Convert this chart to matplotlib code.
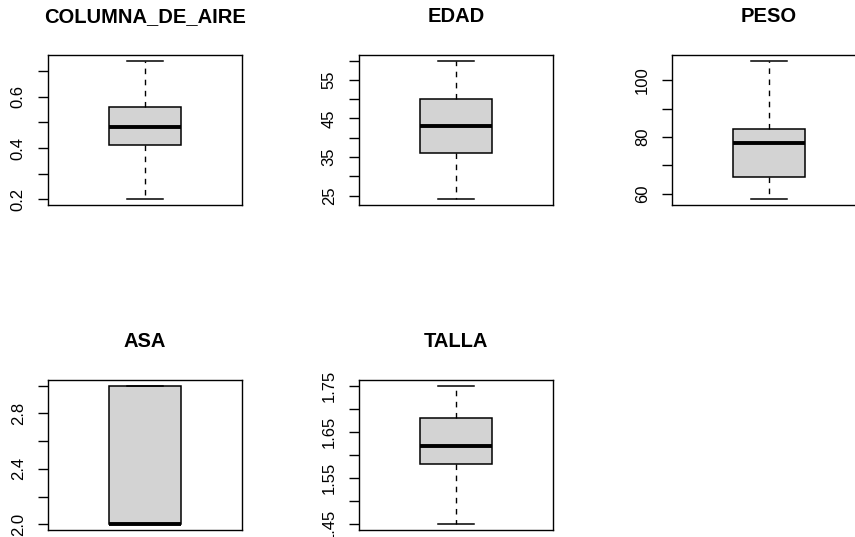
import numpy as np
import matplotlib
matplotlib.use('Agg')
import matplotlib.pyplot as plt

plt.rcParams['font.family'] = ['Liberation Sans', 'DejaVu Sans']

# five-number summaries
names   = ['COLUMNA_DE_AIRE', 'EDAD', 'PESO', 'ASA', 'TALLA']
mins    = [0.20, 24, 58, 2.0, 1.45]
q1s     = [0.41, 36, 66, 2.0, 1.58]
medians = [0.48, 43, 78, 2.0, 1.62]
q3s     = [0.56, 50, 83, 3.0, 1.68]
maxs    = [0.74, 60, 107, 3.0, 1.75]

# tick positions and which ones carry a label
tickVals = [
    [0.2, 0.3, 0.4, 0.5, 0.6, 0.7],
    [25, 30, 35, 40, 45, 50, 55, 60],
    [60, 70, 80, 90, 100],
    [2.0, 2.2, 2.4, 2.6, 2.8, 3.0],
    [1.45, 1.50, 1.55, 1.60, 1.65, 1.70, 1.75],
]
tickLabels = [
    ['0.2', '', '0.4', '', '0.6', ''],
    ['25', '', '35', '', '45', '', '55', ''],
    ['60', '', '80', '', '100'],
    ['2.0', '', '2.4', '', '2.8', ''],
    ['1.45', '', '1.55', '', '1.65', '', '1.75'],
]

W, H = 855, 537
fig = plt.figure(figsize=(W / 100, H / 100), dpi=100)

# frame positions in pixels (left, top) - R mfrow=c(2,3) layout, cropped on the right
frameLefts = [48, 359, 672, 48, 359]
frameTops  = [55, 55, 55, 380, 380]
frameW, frameH = 194, 150

for i, name in enumerate(names):
    ax = fig.add_axes([frameLefts[i] / W, 1 - (frameTops[i] + frameH) / H,
                       frameW / W, frameH / H])
    stats = [{'whislo': mins[i], 'q1': q1s[i], 'med': medians[i],
              'q3': q3s[i], 'whishi': maxs[i], 'fliers': []}]
    ax.bxp(stats, positions=[1], widths=0.4, capwidths=0.2, patch_artist=True,
           showfliers=False,
           boxprops=dict(facecolor='#d3d3d3', edgecolor='black', linewidth=1.1),
           medianprops=dict(color='black', linewidth=2.8, solid_capstyle='butt'),
           whiskerprops=dict(color='black', linewidth=1.0, linestyle=(0, (4, 4))),
           capprops=dict(color='black', linewidth=1.1))

    lo, hi = mins[i], maxs[i]
    ext = (hi - lo) * 0.04
    ax.set_ylim(lo - ext, hi + ext)
    ax.set_xlim(0.46, 1.54)

    ax.set_xticks([])
    ax.set_yticks(tickVals[i])
    ax.set_yticklabels(tickLabels[i], rotation=90, va='center', fontsize=12)
    ax.tick_params(axis='y', length=7, width=1, pad=9, direction='out')
    for spine in ax.spines.values():
        spine.set_linewidth(1.0)

    ax.text(0.5, 1.255, name, transform=ax.transAxes, ha='center', va='center',
            fontsize=14.5, fontweight='bold')

fig.savefig('out.png', dpi=100)
